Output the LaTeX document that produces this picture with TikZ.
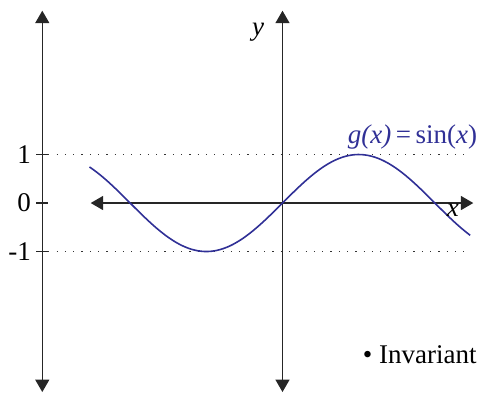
\documentclass[tikz,border=0pt]{standalone}
\usepackage{fontspec}
\setmainfont{Liberation Serif}
\usetikzlibrary{arrows.meta}
\definecolor{sinblue}{RGB}{48,48,150}

\begin{document}
\begin{tikzpicture}[x=24.25pt, y=24.25pt,
    axis/.style={line width=0.65pt, draw=black!85,
        {Triangle[length=6.2pt,width=7pt]}-{Triangle[length=6.2pt,width=7pt]}},
    guide/.style={line width=0.65pt, dash pattern=on 0.6pt off 3.55pt, black!80},
    lbl/.style={font=\fontsize{13.5}{16}\selectfont, inner sep=0pt}]
    \useasboundingbox (-5.825,-3.918) rectangle (4.134,4.186);

    \coordinate (T) at (-4.953, 3.965);
    \coordinate (B) at (-4.953, -3.897);
    \coordinate (Y) at (0, 3.965);
    \coordinate (Y') at (0, -3.897);
    \coordinate (X) at (3.934, 0);
    \coordinate (X') at (-3.955, 0);
    \coordinate (P1) at (-4.953, 1);
    \coordinate (P0) at (-4.953, 0);
    \coordinate (M1) at (-4.953, -1);
    \coordinate (E1) at (3.866, 1);
    \coordinate (E2) at (3.866, -1);

    \draw[axis] (B) -- (T);
    \draw[axis] (Y') -- (Y);
    \draw[axis] (X') -- (X);

    \foreach \n in {P1, P0, M1}
    \draw[line width=0.65pt, black!85] ([xshift=-3pt]\n) -- ([xshift=3pt]\n);

    \draw[guide] ([xshift=3pt]P1) -- (E1);
    \draw[guide] ([xshift=3pt]M1) -- (E2);

    \draw[sinblue, line width=0.8pt, domain=-3.98:3.87, samples=120, smooth]
        plot (\x, {sin(\x r)});

    \node[lbl, anchor=east] (l1) at ([xshift=-5.5pt]P1) {1};
    \node[lbl, anchor=east] (l0) at ([xshift=-5.5pt]P0) {0};
    \node[lbl, anchor=east] (lm1) at ([xshift=-5.5pt]M1) {-1};
    \node[lbl] (ylab) at (-0.505, 3.53) {\itshape y};
    \node[lbl, anchor=base] (xlab) at (3.515, -0.268) {\itshape x};
    \node[lbl, sinblue, anchor=base east] (glab) at (4.02, 1.237)
        {\textit{g(x)}\,=\,sin(\textit{x})};
    \node[lbl, anchor=base east] (inv) at (4.01, -3.299) {\textbullet{} Invariant};
\end{tikzpicture}
\end{document}
